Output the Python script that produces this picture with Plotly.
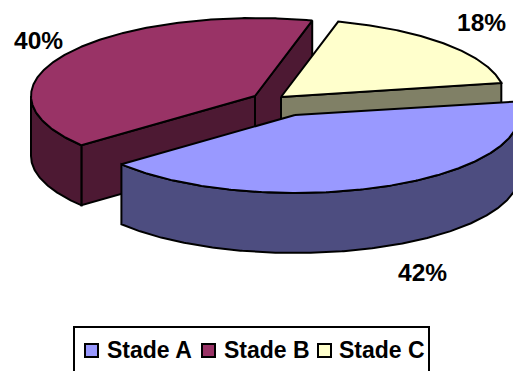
import numpy as np
import plotly.graph_objects as go

# Share of each stage
stages = ["Stade A", "Stade B", "Stade C"]
shares = [42, 40, 18]
labels = ["42%", "40%", "18%"]

top_colors = ["#9999FF", "#993366", "#FFFFCC"]
side_colors = ["#4D4D80", "#4D1933", "#808066"]

# Pie geometry, in page pixels
WIDTH, HEIGHT = 513, 371
RX, RY, DEPTH = 224, 78, 60
START_ANGLE = -10.4
centers = [(295, 115), (255, 96), (281, 97)]
label_positions = [(422, 272), (38, 40), (481, 22)]
FONT = "Liberation Sans, Arial, sans-serif"


def rim(cx, cy, a0, a1, drop=0.0):
    t = np.radians(np.linspace(a0, a1, max(int(abs(a1 - a0) * 2), 2)))
    return cx + RX * np.cos(t), cy + RY * np.sin(t) + drop


def polygon(fig, xs, ys, fill):
    xs, ys = list(xs), list(ys)
    fig.add_trace(go.Scatter(
        x=xs + [xs[0]], y=ys + [ys[0]], mode="lines",
        fill="toself", fillcolor=fill, line=dict(color="black", width=2),
        hoverinfo="skip", showlegend=False,
    ))


def cut_face(fig, cx, cy, angle, fill):
    ex = cx + RX * np.cos(np.radians(angle))
    ey = cy + RY * np.sin(np.radians(angle))
    polygon(fig, [cx, ex, ex, cx], [cy, ey, ey + DEPTH, cy + DEPTH], fill)


def draw_slice(fig, cx, cy, a0, a1, top, side):
    # A straight cut shows only when its outward side points down the page
    if np.cos(np.radians(a1)) > 0:
        cut_face(fig, cx, cy, a1, side)
    if np.cos(np.radians(a0)) < 0:
        cut_face(fig, cx, cy, a0, side)
    # Outer wall: only the near half of the rim is visible
    lo, hi = max(a0, 0), min(a1, 180)
    if hi > lo:
        xs, ys = rim(cx, cy, lo, hi)
        xb, yb = rim(cx, cy, hi, lo, DEPTH)
        polygon(fig, np.r_[xs, xb], np.r_[ys, yb], side)
    # Top surface
    xs, ys = rim(cx, cy, a0, a1)
    polygon(fig, np.r_[cx, xs], np.r_[cy, ys], top)


fig = go.Figure()

# Sweep each slice clockwise on screen from the shared start angle
spans = [s / sum(shares) * 360 for s in shares]
starts = START_ANGLE + np.r_[0, np.cumsum(spans)[:-1]]

# Back slices first so the front slice sits on top of them
for i in (1, 2, 0):
    draw_slice(fig, *centers[i], starts[i], starts[i] + spans[i], top_colors[i], side_colors[i])

for (x, y), text in zip(label_positions, labels):
    fig.add_annotation(x=x, y=y, text=f"<b>{text}</b>", showarrow=False,
                       font=dict(family=FONT, size=24.5, color="black"))

# Legend box runs off the bottom of the page, so its lower edge stays out of view
fig.add_shape(type="rect", x0=74, x1=429, y0=327, y1=HEIGHT + 6,
              line=dict(color="black", width=2), fillcolor="white")
swatch_x = [91.5, 208.5, 324.5]
text_x = [105, 222, 337]
for sx, tx, name, color in zip(swatch_x, text_x, stages, top_colors):
    fig.add_shape(type="rect", x0=sx - 6.5, x1=sx + 6.5, y0=344, y1=357,
                  line=dict(color="black", width=2), fillcolor=color)
    fig.add_annotation(x=tx, y=349.5, text=f"<b>{name}</b>", showarrow=False, xanchor="left",
                       font=dict(family=FONT, size=23, color="black"))

fig.update_layout(
    width=WIDTH, height=HEIGHT, margin=dict(l=0, r=0, t=0, b=0),
    paper_bgcolor="white", plot_bgcolor="white", showlegend=False,
    xaxis=dict(range=[0, WIDTH], visible=False, fixedrange=True),
    yaxis=dict(range=[HEIGHT, 0], visible=False, fixedrange=True),
)
fig.write_html("out.html", config={"displayModeBar": False})
